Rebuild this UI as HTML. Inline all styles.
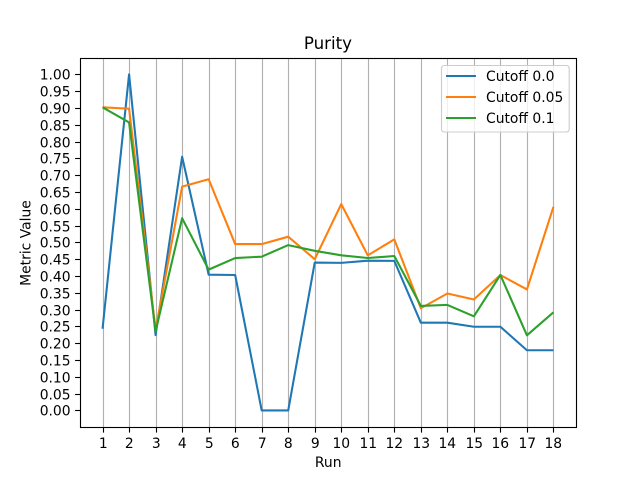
<!DOCTYPE html>
<html>
<head>
<meta charset="utf-8">
<title>Purity</title>
<style>
html,body{margin:0;padding:0;background:#fff;}
svg{display:block;}
text{font-family:"DejaVu Sans",sans-serif;fill:#000;}
</style>
</head>
<body>
<svg id="chart" width="640" height="480" viewBox="0 0 640 480" xmlns="http://www.w3.org/2000/svg">
<rect x="0" y="0" width="640" height="480" fill="#fff"/>
<g id="grid"></g>
<g id="series"></g>
<rect x="80.5" y="58.5" width="496" height="369" fill="none" stroke="#000" stroke-width="1.11"/>
<g id="xticks"></g>
<g id="yticks"></g>
<text x="327.9" y="49" font-size="16.67" text-anchor="middle">Purity</text>
<text x="328.2" y="467" font-size="13.89" text-anchor="middle">Run</text>
<text x="0" y="0" font-size="13.89" text-anchor="middle" transform="translate(30.6,243) rotate(-90)">Metric Value</text>
<g id="legend">
<rect x="441.5" y="65.5" width="127.7" height="66.5" rx="2.8" ry="2.8" fill="#fff" fill-opacity="0.8" stroke="#ccc" stroke-width="1.11"/>
</g>
</svg>
<script>
const runs = [1,2,3,4,5,6,7,8,9,10,11,12,13,14,15,16,17,18];
const cutoff00 = [0.243,1.0,0.224,0.755,0.404,0.403,0,0,0.44,0.439,0.4455,0.445,0.261,0.261,0.249,0.249,0.179,0.179];
const cutoff005 = [0.902,0.898,0.24,0.666,0.688,0.495,0.495,0.517,0.45,0.614,0.4615,0.509,0.304,0.348,0.33,0.403,0.36,0.606];
const cutoff01 = [0.902,0.857,0.235,0.572,0.419,0.4535,0.4575,0.492,0.475,0.4615,0.4535,0.4595,0.311,0.314,0.28,0.403,0.2235,0.292];
const yTickLabels = ["0.00","0.05","0.10","0.15","0.20","0.25","0.30","0.35","0.40","0.45","0.50","0.55","0.60","0.65","0.70","0.75","0.80","0.85","0.90","0.95","1.00"];
const seriesNames = ["Cutoff 0.0","Cutoff 0.05","Cutoff 0.1"];
const seriesColors = ["#1f77b4","#ff7f0e","#2ca02c"];
const seriesValues = [cutoff00,cutoff005,cutoff01];

const NS = "http://www.w3.org/2000/svg";
function xPos(run){ return 102.55 + (run - 1) * (553.45 - 102.55) / 17; }
function yPos(v){ return 410.4 - v * 336; }
function snap(p){ return Math.floor(p + 0.5) + 0.5; }
function make(tag, attrs, parent){
  const el = document.createElementNS(NS, tag);
  for (const k in attrs) el.setAttribute(k, attrs[k]);
  parent.appendChild(el);
  return el;
}
const gridG = document.getElementById("grid");
const xG = document.getElementById("xticks");
const yG = document.getElementById("yticks");
const seriesG = document.getElementById("series");
const legendG = document.getElementById("legend");

runs.forEach(function(r){
  const x = snap(xPos(r));
  const g = make("line", {x1:x, x2:x, y1:58, y2:427, stroke:"#b0b0b0", "stroke-width":1.11}, gridG);
  
  
  const t = make("line", {x1:x, x2:x, y1:427.5, y2:432.6, stroke:"#000", "stroke-width":1.11}, xG);
  
  
  const l = make("text", {x:x - 0.2, y:448, "font-size":13.89, "text-anchor":"middle"}, xG);
  
  
  l.textContent = String(r);
});

yTickLabels.forEach(function(lab){
  const y = snap(yPos(parseFloat(lab)));
  const t = make("line", {x1:75.1, x2:80.5, y1:y, y2:y, stroke:"#000", "stroke-width":1.11}, yG);
  
  
  const l = make("text", {x:70.6, y:y + 4.8, "font-size":13.89, "text-anchor":"end"}, yG);
  
  
  l.textContent = lab;
});

seriesValues.forEach(function(vals, i){
  const pts = vals.map(function(v, j){ return xPos(runs[j]) + "," + yPos(v); }).join(" ");
  const p = make("polyline", {points:pts, fill:"none", stroke:seriesColors[i], "stroke-width":2.08, "stroke-linejoin":"round", "stroke-linecap":"butt"}, seriesG);
  
  
});

seriesNames.forEach(function(name, i){
  const y = 76 + i * 21;
  const h = make("line", {x1:446, x2:476, y1:y, y2:y, stroke:seriesColors[i], "stroke-width":2.08}, legendG);
  
  
  const l = make("text", {x:486, y:y + 5.2, "font-size":13.89}, legendG);
  
  
  l.textContent = name;
});
</script>
</body>
</html>
